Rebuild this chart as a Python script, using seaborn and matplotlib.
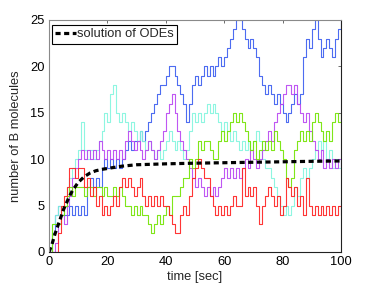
import pandas as pd
import seaborn as sns
import matplotlib
matplotlib.use("Agg")
import matplotlib.pyplot as plt

sns.set_style("white")
plt.rcParams['font.family'] = ['Liberation Sans', 'DejaVu Sans']

# tempo das trajetorias (1 s)
tempo = list(range(101))

azul = [0, 2, 4, 5, 4, 4, 4, 5, 4, 5,
        4, 5, 4, 7, 8, 7, 8, 7, 9, 10,
        9, 10, 9, 10, 9, 10, 11, 12, 11, 12,
        12, 13, 12, 13, 14, 15, 16, 17, 18, 18,
        19, 20, 20, 19, 18, 17, 16, 14, 16, 18,
        19, 18, 19, 20, 19, 20, 19, 20, 21, 20,
        21, 22, 23, 24, 25, 25, 24, 23, 22, 23,
        22, 21, 19, 18, 17, 18, 17, 16, 17, 16,
        15, 14, 15, 16, 17, 16, 17, 21, 23, 22,
        24, 25, 23, 21, 22, 23, 22, 21, 23, 24,
        25]

ciano = [0, 3, 4, 5, 4, 5, 7, 8, 9, 10,
         11, 14, 11, 10, 11, 10, 11, 12, 13, 15,
         14, 17, 18, 15, 14, 15, 14, 13, 14, 13,
         12, 13, 12, 11, 12, 11, 10, 11, 10, 11,
         12, 13, 12, 11, 12, 11, 10, 11, 13, 15,
         14, 15, 14, 15, 16, 15, 16, 15, 14, 13,
         14, 13, 12, 13, 12, 11, 12, 11, 12, 11,
         12, 13, 12, 10, 9, 9, 8, 7, 6, 5,
         4, 5, 4, 5, 7, 6, 8, 9, 8, 9,
         10, 11, 12, 11, 12, 10, 11, 9, 10, 9,
         10]

magenta = [0, 0, 1, 3, 4, 3, 5, 6, 8, 9,
           10, 11, 10, 11, 10, 11, 10, 12, 11, 10,
           11, 10, 11, 10, 11, 10, 12, 13, 12, 11,
           12, 11, 10, 11, 12, 11, 10, 11, 12, 13,
           15, 16, 17, 15, 13, 12, 11, 10, 9, 8,
           7, 8, 7, 6, 7, 6, 7, 6, 7, 8,
           9, 8, 9, 8, 9, 8, 9, 10, 9, 11,
           10, 9, 10, 11, 12, 13, 12, 14, 15, 16,
           17, 18, 18, 17, 18, 16, 15, 14, 15, 13,
           12, 11, 10, 11, 9, 10, 9, 10, 9, 10,
           9]

verde = [0, 3, 3, 3, 4, 5, 6, 7, 6, 7,
         7, 7, 6, 7, 7, 6, 7, 7, 6, 7,
         6, 6, 7, 6, 7, 6, 5, 5, 4, 5,
         4, 5, 4, 4, 3, 2, 3, 4, 3, 4,
         5, 4, 6, 6, 6, 7, 8, 8, 10, 9,
         10, 12, 11, 12, 12, 11, 10, 10, 12, 13,
         12, 13, 14, 15, 14, 15, 14, 13, 12, 11,
         12, 10, 11, 12, 11, 12, 11, 13, 12, 11,
         10, 8, 7, 8, 11, 12, 13, 12, 13, 12,
         14, 15, 14, 13, 12, 13, 12, 14, 15, 14,
         15]

vermelho = [0, 0, 0, 2, 5, 6, 7, 9, 9, 8,
            9, 9, 7, 8, 6, 7, 5, 6, 4, 5,
            4, 5, 6, 5, 7, 8, 7, 8, 7, 6,
            7, 8, 6, 5, 6, 5, 6, 5, 6, 5,
            5, 4, 3, 2, 2, 4, 5, 4, 6, 8,
            9, 10, 9, 8, 8, 6, 5, 4, 5, 4,
            5, 4, 5, 6, 5, 5, 9, 6, 7, 6,
            7, 5, 3, 5, 6, 7, 6, 5, 6, 4,
            5, 8, 7, 6, 7, 5, 6, 4, 8, 5,
            4, 5, 4, 5, 4, 5, 4, 5, 4, 5,
            4]

# solucao das EDOs
tempo_ode = [0, 1, 2, 3, 4, 5, 6, 7, 8, 10, 12, 14, 16, 18, 20, 25, 30, 40, 50, 60, 70, 80, 90, 100]
valor_ode = [0, 0.8, 1.9, 2.8, 3.7, 4.6, 5.3, 6.0, 6.6, 7.5, 8.1, 8.5, 8.75, 8.9, 9.0, 9.25, 9.4,
             9.5, 9.57, 9.62, 9.67, 9.72, 9.77, 9.81]

cores = {"azul": "#3a5cf0", "ciano": "#82f5de", "magenta": "#b845f2",
         "verde": "#72e400", "vermelho": "#ff2020"}

series = {"azul": azul, "ciano": ciano, "magenta": magenta, "verde": verde, "vermelho": vermelho}
tabelas = []
for nome, valores in series.items():
    tabelas.append(pd.DataFrame({"tempo": tempo, "B": valores, "run": nome}))
df = pd.concat(tabelas, ignore_index=True)

fig = plt.figure(figsize=(3.77, 2.84), dpi=100)
ax = fig.add_axes([0.130, 0.1127, 0.7745, 0.8169])

sns.lineplot(data=df, x="tempo", y="B", hue="run", palette=cores, estimator=None,
             drawstyle="steps-post", linewidth=0.8, alpha=0.9, legend=False, ax=ax)

sns.lineplot(x=tempo_ode, y=valor_ode, color="black", linewidth=2.3,
             linestyle=(0, (1.6, 1.1)), label="solution of ODEs", ax=ax)

ax.set_xlim(0, 100)
ax.set_ylim(0, 25)
ax.set_xticks([0, 20, 40, 60, 80, 100])
ax.set_yticks([0, 5, 10, 15, 20, 25])
ax.set_xlabel("time [sec]", fontsize=9.3, labelpad=2)
ax.set_ylabel("number of B molecules", fontsize=9.3)
ax.yaxis.set_label_coords(-0.093, 0.5)

ax.tick_params(direction="in", length=2.5, width=0.6, colors="#555555", labelcolor="black",
               labelsize=9.3, top=True, right=True, pad=3)
for lado in ["left", "top"]:
    ax.spines[lado].set_color("#8a8a8a")
for lado in ["right", "bottom"]:
    ax.spines[lado].set_color("#222222")
for s in ax.spines.values():
    s.set_linewidth(0.8)

leg = ax.legend(loc="upper left", bbox_to_anchor=(0.009, 0.978), borderaxespad=0,
                fancybox=False, edgecolor="black", framealpha=1, fontsize=9.3,
                borderpad=0.25, handlelength=1.6, handletextpad=0.1)
leg.get_frame().set_linewidth(0.8)

plt.savefig("out.png", dpi=100)
plt.close()
